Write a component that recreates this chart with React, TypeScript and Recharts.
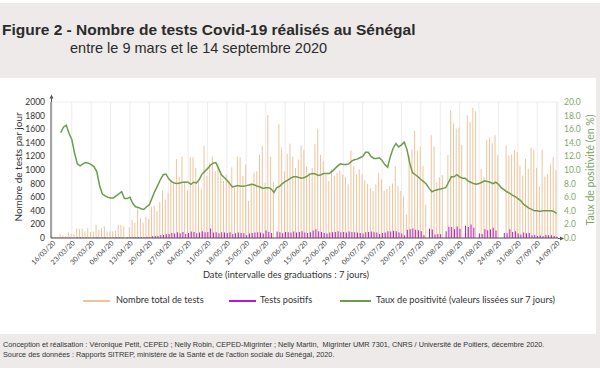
import { ComposedChart, Bar, Line, XAxis, YAxis, CartesianGrid } from 'recharts'

// 183 days, 16/03/20 -> 14/09/20
const startDay = new Date(2020, 2, 16)
const pad = (n: number) => (n < 10 ? '0' + n : '' + n)
const categories = Array.from({ length: 183 }, (_, i) => {
  const d = new Date(startDay.getFullYear(), startDay.getMonth(), startDay.getDate() + i)
  return `${pad(d.getDate())}/${pad(d.getMonth() + 1)}/20`
})

const tickLabels = [
  '16/03/20', '23/03/20', '30/03/20', '06/04/20', '13/04/20', '20/04/20', '27/04/20',
  '04/05/20', '11/05/20', '18/05/20', '25/05/20', '01/06/20', '08/06/20', '15/06/20',
  '22/06/20', '29/06/20', '06/07/20', '13/07/20', '20/07/20', '27/07/20', '03/08/20',
  '10/08/20', '17/08/20', '24/08/20', '31/08/20', '07/09/20', '14/09/20',
]

const totalTests = [
  40, 20, 15, 55, 40, 30, 85,
  60, 60, 140, 130, 140, 100, 145,
  90, 95, 195, 120, 150, 170, 95,
  100, 100, 110, 195, 190, 170, 10,
  157, 265, 225, 436, 294, 225, 314,
  280, 460, 475, 392, 530, 696, 568,
  666, 853, 804, 1161, 902, 1196, 843,
  700, 1190, 1186, 1029, 828, 720, 1357,
  916, 1098, 1200, 980, 1090, 980, 837,
  934, 847, 1041, 740, 1200, 1187, 910,
  1080, 545, 813, 958, 983, 1226, 1362,
  813, 1810, 1200, 827, 0, 1674, 1330,
  983, 1236, 1390, 1200, 1031, 1153, 1362,
  1299, 1050, 958, 1030, 1382, 1605, 1226,
  1130, 935, 837, 1010, 910, 958, 993,
  935, 895, 790, 1285, 1055, 935, 1010,
  935, 847, 798, 730, 690, 790, 960,
  860, 690, 720, 770, 800, 1055, 770,
  690, 615, 345, 1220, 1300, 1576, 1283,
  1341, 1063, 488, 0, 1512, 1346, 820,
  893, 927, 0, 1220, 1883, 1688, 1610,
  1624, 1366, 0, 1805, 1707, 1917, 1863,
  0, 1015, 893, 1439, 1478, 1395, 1512,
  1220, 0, 0, 1361, 1214, 1228, 1297,
  1263, 1066, 919, 1165, 1017, 1327, 1297,
  1032, 757, 1297, 904, 943, 1081, 1189,
  1000, 830,
]

const positiveTests = [
  5, 3, 2, 8, 4, 3, 6,
  4, 5, 10, 12, 8, 6, 9,
  5, 6, 12, 8, 7, 10, 4,
  5, 6, 10, 12, 8, 1, 7,
  10, 12, 15, 14, 10, 12, 18,
  16, 25, 30, 28, 40, 45, 55,
  60, 75, 65, 85, 70, 90, 60,
  75, 95, 90, 70, 80, 100, 85,
  90, 140, 80, 85, 70, 85, 80,
  75, 85, 60, 70, 80, 75, 70,
  40, 65, 75, 80, 85, 80, 65,
  110, 90, 75, 0, 95, 85, 70,
  90, 85, 80, 95, 80, 90, 100,
  80, 75, 85, 110, 130, 100, 90,
  75, 65, 80, 85, 90, 100, 85,
  90, 80, 95, 90, 85, 80, 75,
  65, 85, 90, 95, 85, 80, 60,
  75, 80, 100, 95, 105, 100, 80,
  65, 35, 120, 130, 140, 120, 115,
  100, 40, 0, 135, 125, 50, 60,
  55, 0, 100, 165, 160, 130, 170,
  135, 0, 180, 160, 200, 150, 0,
  65, 60, 130, 115, 125, 150, 110,
  0, 0, 75, 70, 130, 90, 100,
  65, 50, 80, 70, 75, 40, 45,
  30, 35, 25, 45, 40, 40, 30,
  20,
]

// taux de positivité lissé sur 7 jours (%)
const positivityRate: (number | null)[] = [
  null, null, null, 15.5, 16.3, 16.6, 15.4,
  14.5, 12.5, 10.9, 10.6, 10.9, 11.1, 11.0,
  10.8, 10.5, 9.8, 7.8, 6.5, 6.2, 6.0,
  5.9, 5.9, 6.2, 6.5, 6.8, 5.8, 5.8,
  6.0, 5.1, 4.6, 4.5, 4.3, 4.2, 4.6,
  4.9, 5.9, 6.9, 7.7, 8.6, 9.3, 9.4,
  8.7, 8.3, 8.1, 8.0, 8.1, 8.2, 8.2,
  8.2, 7.9, 8.2, 8.1, 8.6, 9.4, 9.8,
  10.2, 10.7, 11.0, 11.1, 10.2, 9.3, 8.9,
  8.5, 8.0, 7.5, 7.6, 7.7, 7.6, 7.6,
  7.7, 7.8, 7.9, 7.8, 7.6, 7.5, 7.3,
  7.4, 7.4, 7.2, 6.7, 7.4, 7.6, 8.0,
  8.3, 8.5, 8.8, 9.0, 9.0, 8.9, 8.8,
  8.9, 9.1, 9.4, 9.5, 9.4, 9.2, 9.3,
  9.5, 9.5, 9.5, 9.8, 10.2, 10.6, 10.9,
  10.8, 10.8, 10.9, 11.3, 11.5, 11.6, 11.8,
  12.0, 12.6, 12.6, 12.0, 11.7, 11.7, 11.8,
  11.4, 10.8, 10.4, 12.0, 13.2, 13.9, 13.4,
  13.7, 14.1, 13.0, 11.0, 9.6, 9.3, 9.0,
  8.6, 8.3, 7.9, 7.3, 6.8, 7.0, 7.1,
  7.2, 7.3, 7.4, 8.2, 9.0, 9.0, 9.3,
  9.0, 8.8, 8.8, 8.4, 8.2, 8.0, 7.9,
  8.0, 8.2, 8.4, 8.3, 8.2, 8.0, 8.2,
  7.9, 7.4, 7.1, 6.8, 6.6, 6.3, 6.1,
  5.8, 5.5, 5.0, 4.7, 4.4, 4.2, 4.0,
  4.0, 3.9, 4.0, 4.0, 4.0, 4.0, 3.9,
  3.6,
]

const leftTicks = [0, 200, 400, 600, 800, 1000, 1200, 1400, 1600, 1800, 2000]
const rightTicks = [0, 2, 4, 6, 8, 10, 12, 14, 16, 18, 20]

const data = categories.map((date, i) => ({
  date,
  total: totalTests[i],
  positive: positiveTests[i],
  rate: positivityRate[i],
}))

const TAN = '#f0c39b'
const PURPLE = '#b01ccf'
const GREEN = '#6c9d4f'
const GRAY_BG = '#edeae9'
const axisFont = 'Lato, "Open Sans", sans-serif'
const arial = '"Liberation Sans", Arial, sans-serif'

export default function App() {
  return (
    <div style={{ position: 'absolute', left: 0, top: 0, width: 600, height: 372, background: GRAY_BG, overflow: 'hidden', fontFamily: axisFont }}>
      <div style={{ position: 'absolute', left: 0, top: 0, width: 600, height: 3, background: '#fff' }} />
      <div style={{ position: 'absolute', left: 0, top: 368, width: 600, height: 4, background: '#fff' }} />
      <div style={{ position: 'absolute', left: 2, top: 21, fontFamily: arial, fontWeight: 700, fontSize: 15.5, color: '#2b2b2b', whiteSpace: 'nowrap' }}>
        Figure 2 - Nombre de tests Covid-19 réalisés au Sénégal
      </div>
      <div style={{ position: 'absolute', left: 70, top: 40, fontFamily: arial, fontSize: 14.5, color: '#2b2b2b', whiteSpace: 'nowrap' }}>
        entre le 9 mars et le 14 septembre 2020
      </div>
      <div style={{ position: 'absolute', left: 0, top: 78, width: 596, height: 256, background: '#fff' }} />

      <div style={{ position: 'absolute', left: 0, top: 0 }}>
        <ComposedChart
          width={600}
          height={282}
          data={data}
          margin={{ top: 102, right: 0, left: 0, bottom: 0 }}
          barCategoryGap="8%"
          barGap={0}
        >
          <CartesianGrid stroke="#e8e8e8" strokeWidth={0.8} />
          <XAxis
            dataKey="date"
            ticks={tickLabels}
            interval={0}
            angle={-45}
            textAnchor="end"
            height={44}
            tickLine={false}
            axisLine={{ stroke: '#555' }}
            tick={{ fontSize: 7, fill: '#444', fontFamily: axisFont }}
            tickMargin={-4}
          />
          <YAxis
            yAxisId="left"
            domain={[0, 2000]}
            ticks={leftTicks}
            interval={0}
            width={51}
            tickLine={false}
            axisLine={{ stroke: '#555' }}
            tick={{ fontSize: 8.5, fill: '#333', fontFamily: axisFont }}
            tickMargin={0}
          />
          <YAxis
            yAxisId="right"
            orientation="right"
            domain={[0, 20]}
            ticks={rightTicks}
            interval={0}
            width={42}
            tickLine={false}
            axisLine={false}
            tickFormatter={(v: number) => v.toFixed(1)}
            tick={{ fontSize: 8.5, fill: '#86a86c', fontFamily: axisFont }}
            tickMargin={0}
          />
          <Bar yAxisId="left" dataKey="total" fill={TAN} isAnimationActive={false} />
          <Bar yAxisId="left" dataKey="positive" fill={PURPLE} isAnimationActive={false} />
          <Line
            yAxisId="right"
            dataKey="rate"
            stroke={GREEN}
            strokeWidth={1.5}
            dot={false}
            type="linear"
            isAnimationActive={false}
          />
        </ComposedChart>
      </div>

      <svg width={600} height={372} style={{ position: 'absolute', left: 0, top: 0, pointerEvents: 'none' }}>
        {/* axis arrow heads */}
        <line x1={51.5} y1={97} x2={51.5} y2={102} stroke="#555" />
        <path d="M49.5,98.5 L51.5,94.5 L53.5,98.5 Z" fill="#555" />
        <line x1={558} y1={238.5} x2={561} y2={238.5} stroke="#555" />
        <path d="M560,236.5 L564,238.5 L560,240.5 Z" fill="#555" />
        <text
          x={22}
          y={167}
          transform="rotate(-90 22 167)"
          textAnchor="middle"
          fontFamily={axisFont}
          fontSize={10}
          fill="#333"
        >
          Nombre de tests par jour
        </text>
        <text
          x={594}
          y={170}
          transform="rotate(-90 594 170)"
          textAnchor="middle"
          fontFamily={axisFont}
          fontSize={10.5}
          fill="#7fa366"
        >
          Taux de positivité (en %)
        </text>
        <text x={286} y={278} textAnchor="middle" fontFamily={axisFont} fontSize={9.3} fill="#333">
          Date (intervalle des graduations : 7 jours)
        </text>
      </svg>

      <div style={{ position: 'absolute', top: 294, left: 0, width: 600, height: 14, fontSize: 9.2, color: '#333' }}>
        <div style={{ position: 'absolute', left: 83, top: 6, width: 27, height: 1.5, background: TAN }} />
        <div style={{ position: 'absolute', left: 116, top: 0, whiteSpace: 'nowrap' }}>Nombre total de tests</div>
        <div style={{ position: 'absolute', left: 229, top: 6, width: 27, height: 2, background: PURPLE }} />
        <div style={{ position: 'absolute', left: 260, top: 0, whiteSpace: 'nowrap' }}>Tests positifs</div>
        <div style={{ position: 'absolute', left: 340, top: 6, width: 31, height: 1.5, background: GREEN }} />
        <div style={{ position: 'absolute', left: 376, top: 0, whiteSpace: 'nowrap' }}>Taux de positivité (valeurs lissées sur 7 jours)</div>
      </div>

      <div style={{ position: 'absolute', left: 3, top: 340, fontFamily: arial, fontSize: 7.3, color: '#333', lineHeight: '10px', whiteSpace: 'nowrap' }}>
        <div>Conception et réalisation : Véronique Petit, CEPED ; Nelly Robin, CEPED-Migrinter ; Nelly Martin,&nbsp; Migrinter UMR 7301, CNRS / Université de Poitiers, décembre 2020.</div>
        <div>Source des données : Rapports SITREP, ministère de la Santé et de l'action sociale du Sénégal, 2020.</div>
      </div>
    </div>
  )
}
